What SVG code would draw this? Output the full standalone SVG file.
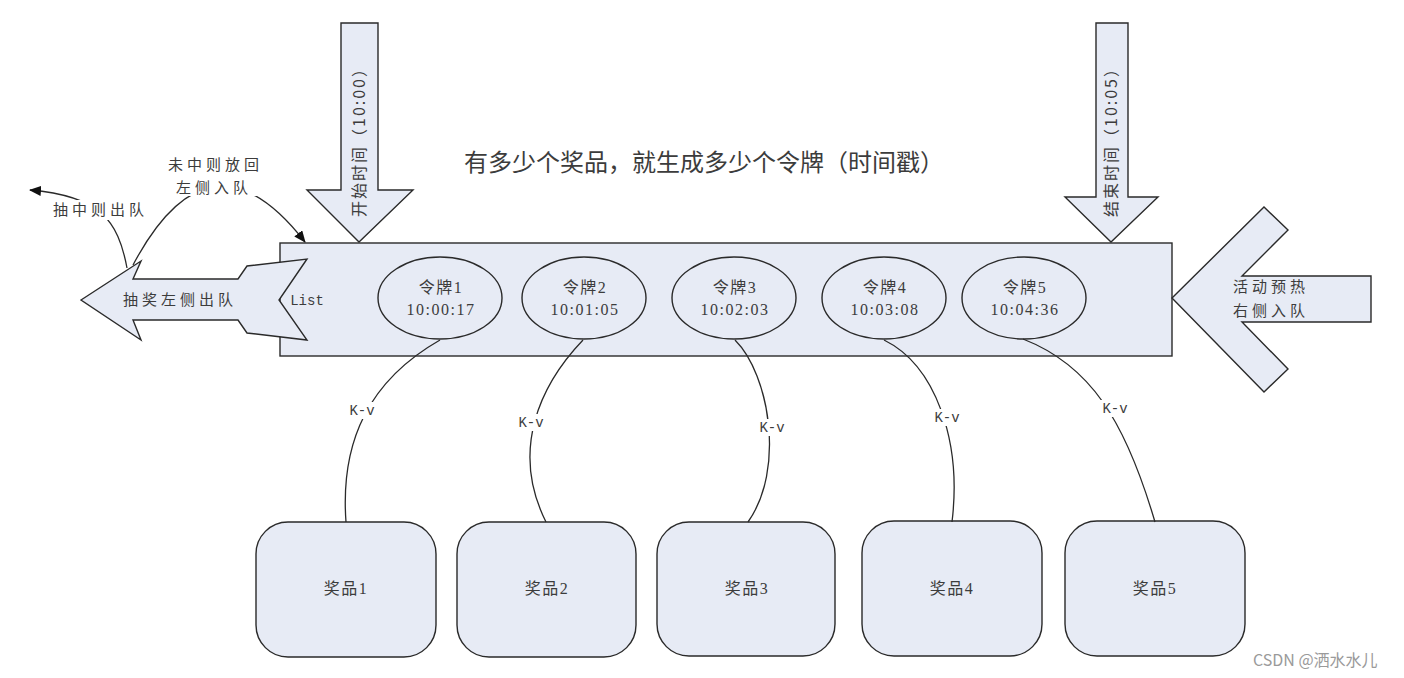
<svg xmlns="http://www.w3.org/2000/svg" width="1404" height="678" viewBox="0 0 1404 678">
<defs>
<style>
.sh{fill:#e7ebf5;stroke:#2a2a2a;stroke-width:1.4}
.ln{fill:none;stroke:#2a2a2a;stroke-width:1.3}
.cn{font-family:"Noto Sans CJK SC","Liberation Sans",sans-serif;fill:#3c3c3c}
.lb{font-family:"Noto Sans CJK SC","Liberation Sans",sans-serif;font-size:15px;letter-spacing:4px;fill:#3c3c3c}
.tk{font-family:"Liberation Serif","Noto Sans CJK SC",serif;font-size:16px;letter-spacing:1.5px;fill:#3c3c3c;text-anchor:middle}
.kv{font-family:"Liberation Mono","Noto Sans CJK SC",monospace;font-size:14px;fill:#3c3c3c;text-anchor:middle}
.bg{fill:#ffffff}
</style>
<marker id="ah" markerWidth="12" markerHeight="10" refX="11" refY="5" orient="auto" markerUnits="userSpaceOnUse">
<path d="M0,0 L12,5 L0,10 Z" fill="#111"/>
</marker>
</defs>
<rect width="1404" height="678" fill="#ffffff"/>

<text class="cn" x="464" y="171" font-size="24">有多少个奖品，就生成多少个令牌（时间戳）</text>

<g id="list">
<rect class="sh" x="280" y="243" width="892" height="113"/>
</g>

<g id="start-arrow">
<polygon class="sh" points="341,23 378,23 378,190 413,190 359,242 307,190 341,190"/>
<text class="cn" font-size="16" letter-spacing="2" text-anchor="middle" transform="translate(365,138) rotate(-90)">开始时间（10:00）</text>
</g>

<g id="end-arrow">
<polygon class="sh" points="1096,23 1128,23 1128,197 1158,197 1111,242 1065,197 1096,197"/>
<text class="cn" font-size="16" letter-spacing="2" text-anchor="middle" transform="translate(1117,138) rotate(-90)">结束时间（10:05）</text>
</g>

<g id="right-arrow">
<polygon class="sh" points="1172,298 1264,207 1288,230 1242,276 1371,276 1371,322 1242,322 1288,369 1264,392"/>
<text class="lb" x="1233" y="292">活动预热</text>
<text class="lb" x="1233" y="316">右侧入队</text>
</g>

<g id="left-arrow">
<polygon class="sh" points="81,300 141,261 133,279 238,279 247,266 307,259 279,300 307,340 247,333 238,320 133,320 141,340"/>
<text class="lb" x="123" y="305">抽奖左侧出队</text>
<text class="kv" x="307" y="305">List</text>
</g>

<g id="tokens">
<g id="token1">
<ellipse class="sh" cx="440" cy="298" rx="62" ry="41"/>
<text class="tk" x="441" y="293">令牌1</text>
<text class="tk" x="441" y="315">10:00:17</text>
</g>
<g id="token2">
<ellipse class="sh" cx="584" cy="298" rx="62" ry="41"/>
<text class="tk" x="585" y="293">令牌2</text>
<text class="tk" x="585" y="315">10:01:05</text>
</g>
<g id="token3">
<ellipse class="sh" cx="734" cy="298" rx="62" ry="41"/>
<text class="tk" x="735" y="293">令牌3</text>
<text class="tk" x="735" y="315">10:02:03</text>
</g>
<g id="token4">
<ellipse class="sh" cx="884" cy="298" rx="62" ry="41"/>
<text class="tk" x="885" y="293">令牌4</text>
<text class="tk" x="885" y="315">10:03:08</text>
</g>
<g id="token5">
<ellipse class="sh" cx="1024" cy="298" rx="62" ry="41"/>
<text class="tk" x="1025" y="293">令牌5</text>
<text class="tk" x="1025" y="315">10:04:36</text>
</g>
</g>

<g id="prizes">
<g id="prize1"><rect class="sh" x="256" y="522" width="180" height="135" rx="32"/><text class="tk" x="346" y="594">奖品1</text></g>
<g id="prize2"><rect class="sh" x="457" y="522" width="179" height="135" rx="32"/><text class="tk" x="547" y="594">奖品2</text></g>
<g id="prize3"><rect class="sh" x="657" y="522" width="178" height="134" rx="32"/><text class="tk" x="747" y="594">奖品3</text></g>
<g id="prize4"><rect class="sh" x="862" y="521" width="180" height="135" rx="32"/><text class="tk" x="952" y="594">奖品4</text></g>
<g id="prize5"><rect class="sh" x="1065" y="521" width="180" height="135" rx="32"/><text class="tk" x="1155" y="594">奖品5</text></g>
</g>

<g id="connectors">
<path class="ln" d="M440,340 C370,380 340,440 346,522"/>
<path class="ln" d="M583,340 C540,385 510,450 546,522"/>
<path class="ln" d="M735,340 C770,375 785,470 748,522"/>
<path class="ln" d="M884,340 C935,365 962,440 952,522"/>
<path class="ln" d="M1023,339 C1090,365 1125,420 1155,522"/>
<rect class="bg" x="347" y="402" width="30" height="17"/>
<text class="kv" x="362" y="415">K-v</text>
<rect class="bg" x="516" y="414" width="30" height="17"/>
<text class="kv" x="531" y="427">K-v</text>
<rect class="bg" x="757" y="419" width="30" height="17"/>
<text class="kv" x="772" y="432">K-v</text>
<rect class="bg" x="932" y="409" width="30" height="17"/>
<text class="kv" x="947" y="422">K-v</text>
<rect class="bg" x="1100" y="400" width="30" height="17"/>
<text class="kv" x="1115" y="413">K-v</text>

<path class="ln" d="M127,268 C118,220 100,196 30,190" marker-end="url(#ah)"/>
<path class="ln" d="M133,265 Q210,120 305,242" marker-end="url(#ah)"/>
<rect class="bg" x="50" y="200" width="98" height="20"/>
<text class="lb" x="53" y="215">抽中则出队</text>
<rect class="bg" x="165" y="153" width="95" height="43"/>
<text class="lb" x="168" y="170">未中则放回</text>
<text class="lb" x="176" y="193">左侧入队</text>
</g>

<text x="1253" y="666" font-family="Noto Sans CJK SC, Liberation Sans, sans-serif" font-size="16" fill="#9a9a9a">CSDN @洒水水儿</text>
</svg>
